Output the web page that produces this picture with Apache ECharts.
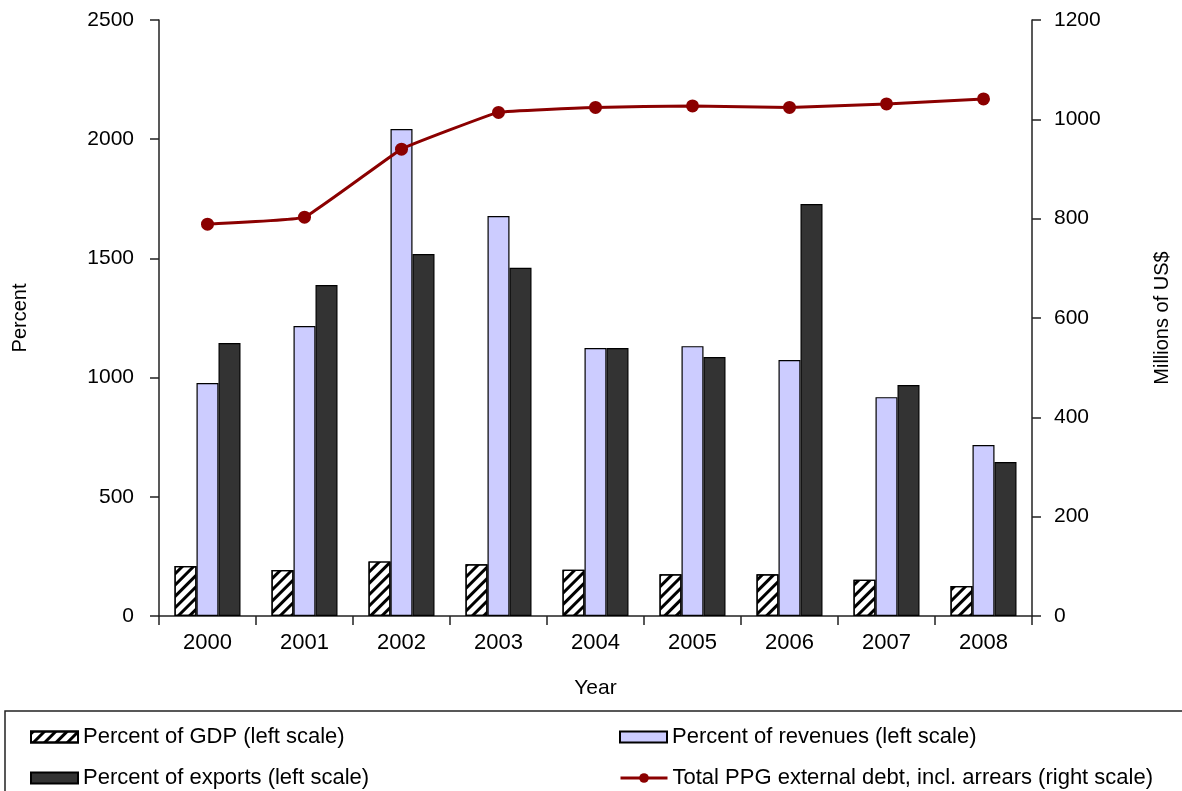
<!DOCTYPE html>
<html>
<head>
<meta charset="utf-8">
<script src="https://cdn.jsdelivr.net/npm/echarts@6/dist/echarts.min.js"></script>
<style>html,body{margin:0;padding:0;background:#fff;}#c{width:1182px;height:791px;}</style>
</head>
<body>
<div id="c"></div>
<script>
const years = ['2000','2001','2002','2003','2004','2005','2006','2007','2008'];
const gdp = [210, 193, 229, 217, 194, 175, 175, 152, 126];
const revenues = [977, 1216, 2043, 1678, 1124, 1132, 1074, 918, 717];
const exportsPct = [1145, 1388, 1518, 1461, 1124, 1086, 1728, 969, 646];
const debt = [789, 803, 940, 1014, 1024, 1027, 1024, 1031, 1041];
const leftTicks = [0, 2500, 500];
const rightTicks = [0, 1200, 200];

const font = 'Liberation Sans, Arial, sans-serif';
const chart = echarts.init(document.getElementById('c'));
const legendBase = {
  orient: 'horizontal', itemWidth: 47, itemHeight: 11, itemGap: 4,
  textStyle: {fontFamily: font, fontSize: 22, color: '#000'}, padding: 0
};
chart.setOption({
  backgroundColor: '#fff',
  animation: false,
  grid: {left: 159, right: 150, top: 20, bottom: 175, containLabel: false},
  xAxis: {
    type: 'category', data: years,
    name: 'Year', nameLocation: 'middle', nameGap: 62,
    nameTextStyle: {fontFamily: font, fontSize: 21, color: '#000'},
    axisLine: {lineStyle: {color: '#222', width: 1.5}},
    axisTick: {show: true, inside: false, length: 9, lineStyle: {color: '#222', width: 1.5}},
    axisLabel: {fontFamily: font, fontSize: 22, color: '#000', margin: 16}
  },
  yAxis: [{
    type: 'value', min: leftTicks[0], max: leftTicks[1], interval: leftTicks[2],
    name: 'Percent', nameLocation: 'middle', nameGap: 129, nameRotate: 90,
    nameTextStyle: {fontFamily: font, fontSize: 20, color: '#000'},
    axisLine: {show: true, lineStyle: {color: '#222', width: 1.5}},
    axisTick: {show: true, length: 9, lineStyle: {color: '#222', width: 1.5}},
    axisLabel: {fontFamily: font, fontSize: 21, color: '#000', margin: 25, formatter: v => String(v)},
    splitLine: {show: false}
  }, {
    type: 'value', min: rightTicks[0], max: rightTicks[1], interval: rightTicks[2],
    position: 'right',
    name: 'Millions of US$', nameLocation: 'middle', nameGap: 120, nameRotate: 90,
    nameTextStyle: {fontFamily: font, fontSize: 20, color: '#000'},
    axisLine: {show: true, lineStyle: {color: '#222', width: 1.5}},
    axisTick: {show: true, length: 9, lineStyle: {color: '#222', width: 1.5}},
    axisLabel: {fontFamily: font, fontSize: 21, color: '#000', margin: 22, formatter: v => String(v)},
    splitLine: {show: false}
  }],
  legend: [
    Object.assign({}, legendBase, {left: 30, top: 726, data: [{name: 'Percent of GDP (left scale)', icon: 'rect'}]}),
    Object.assign({}, legendBase, {left: 619, top: 726, data: [{name: 'Percent of revenues (left scale)', icon: 'rect'}]}),
    Object.assign({}, legendBase, {left: 30, top: 767, data: [{name: 'Percent of exports (left scale)', icon: 'rect'}]}),
    Object.assign({}, legendBase, {left: 619, top: 767, itemHeight: 12,
      data: [{name: 'Total PPG external debt, incl. arrears (right scale)', lineStyle: {width: 3, color: '#8b0000'}}]})
  ],
  graphic: [{
    type: 'rect', shape: {x: 5, y: 711, width: 1180, height: 100},
    style: {fill: 'none', stroke: '#222', lineWidth: 1.5}, silent: true
  }],
  series: [{
    name: 'Percent of GDP (left scale)', type: 'bar', data: gdp,
    barWidth: 22, barGap: '0%',
    itemStyle: {color: '#fff', borderColor: '#000', borderWidth: 1.2,
      decal: {symbol: 'rect', symbolSize: 1, dashArrayX: [1, 0], dashArrayY: [3, 5], rotation: -Math.PI / 4, color: '#000'}}
  }, {
    name: 'Percent of revenues (left scale)', type: 'bar', data: revenues,
    barWidth: 22, barGap: '0%',
    itemStyle: {color: '#ccccff', borderColor: '#000', borderWidth: 1.2}
  }, {
    name: 'Percent of exports (left scale)', type: 'bar', data: exportsPct,
    barWidth: 22, barGap: '0%',
    itemStyle: {color: '#333333', borderColor: '#000', borderWidth: 1.2}
  }, {
    name: 'Total PPG external debt, incl. arrears (right scale)', type: 'line', yAxisIndex: 1,
    data: debt, smooth: 0.08, symbol: 'circle', symbolSize: 13,
    lineStyle: {color: '#8b0000', width: 3}, itemStyle: {color: '#8b0000'}
  }]
});
</script>
</body>
</html>
